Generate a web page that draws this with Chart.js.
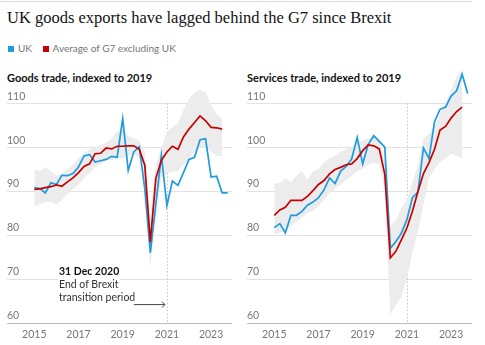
<!DOCTYPE html>
<html>
<head>
<meta charset="utf-8">
<script src="https://cdn.jsdelivr.net/npm/chart.js@4.4.1/dist/chart.umd.min.js"></script>
<style>
    body { margin: 0; background: #fff; font-family: Lato, sans-serif; }
    #wrap { position: relative; width: 485px; height: 345px; overflow: hidden; }
    .rule { position: absolute; left: 0; top: 1px; width: 472px; height: 1px; background: #dcdcdc; }
    .title { position: absolute; left: 7px; top: 10px; font-family: "Liberation Serif", serif; font-size: 16.5px; line-height: 16px; color: #121212; white-space: nowrap; }
    .legend { position: absolute; left: 8px; top: 41.5px; font-size: 10px; line-height: 12px; color: #767676; white-space: nowrap; }
    .legend span.sw { display: inline-block; width: 6px; height: 6px; margin-right: 4px; vertical-align: 0px; }
    .legend span.item { margin-right: 8px; }
    .sub { position: absolute; top: 70.5px; font-size: 11px; font-weight: bold; line-height: 14px; color: #121212; white-space: nowrap; }
    canvas { position: absolute; top: 60px; }
    .note { position: absolute; left: 58px; top: 265px; font-size: 10.5px; line-height: 12.8px; color: #333; }
    .note span { background: #fff; padding: 0 1px; }
    .note b { color: #121212; }
</style>
</head>
<body>
<div id="wrap">
    <div class="rule"></div>
    <div class="title">UK goods exports have lagged behind the G7 since Brexit</div>
    <div class="legend">
        <span class="item"><span class="sw" style="background:#1f9bde"></span>UK</span>
        <span class="item"><span class="sw" style="background:#c70000"></span>Average of G7 excluding UK</span>
    </div>
    <div class="sub" style="left:7px">Goods trade, indexed to 2019</div>
    <div class="sub" style="left:247px">Services trade, indexed to 2019</div>
    <canvas id="goods-chart" style="left:0" width="240" height="285"></canvas>
    <canvas id="services-chart" style="left:240px" width="240" height="285"></canvas>
    <div class="note">
        <span><b>31 Dec 2020</b></span><br>
        <span>End of Brexit</span><br>
        <span>transition period</span>
    </div>
</div>
<script>
// Quarterly index values, 2015 Q1 onwards (2019 = 100)
const startYear = 2015;
const yearTicks = [2015, 2017, 2019, 2021, 2023];
const valueTicks = [60, 70, 80, 90, 100, 110];
const brexitYear = 2021;

const ukGoods = [90.8, 90.6, 89.6, 91.9, 91.5, 93.6, 93.5, 94.0, 95.5, 98.0, 98.3, 96.6,
    96.9, 97.2, 97.9, 97.7, 106.5, 94.7, 98.9, 100.1, 90.5, 76.0, 87.0, 98.1,
    86.7, 92.3, 91.3, 94.2, 97.2, 97.7, 101.7, 101.9, 93.2, 93.4, 89.6, 89.6];
const g7Goods = [90.4, 90.5, 90.8, 91.0, 91.4, 91.1, 92.1, 93.0, 94.2, 95.6, 96.2, 98.5,
    98.6, 99.8, 99.6, 100.2, 100.2, 100.3, 100.3, 99.5, 95.9, 78.4, 92.9, 97.0,
    98.9, 100.2, 99.5, 102.3, 104.1, 105.6, 107.1, 106.0, 104.5, 104.4, 104.1];
const g7GoodsHigh = [95.0, 94.5, 95.5, 94.5, 93.5, 94.0, 95.0, 96.0, 97.5, 98.5, 99.5, 100.0,
    100.5, 101.0, 102.0, 103.5, 104.0, 102.5, 102.0, 101.5, 99.0, 84.0, 96.0, 100.0,
    103.5, 104.5, 105.5, 108.5, 111.0, 112.5, 113.0, 112.5, 109.5, 107.5, 106.5];
const g7GoodsLow = [86.5, 87.0, 87.5, 87.5, 87.0, 88.0, 89.5, 90.5, 91.5, 93.0, 94.0, 95.5,
    96.0, 97.0, 97.0, 97.5, 97.5, 98.0, 98.5, 97.5, 92.0, 72.5, 86.0, 93.0,
    94.0, 94.5, 94.5, 96.0, 97.5, 99.0, 100.0, 100.0, 99.0, 98.0, 98.0];

const ukServices = [81.7, 82.6, 80.5, 84.5, 84.5, 85.4, 86.8, 87.5, 88.5, 90.3, 93.0, 91.7,
    94.5, 95.6, 97.3, 102.2, 96.2, 100.6, 102.6, 101.3, 100.0, 77.0, 78.5, 80.4,
    83.5, 88.5, 89.8, 99.8, 97.4, 105.8, 108.6, 109.1, 111.6, 112.8, 116.6, 112.2];
const g7Services = [84.5, 85.7, 86.3, 87.9, 87.9, 87.9, 88.8, 90.1, 91.5, 92.4, 93.9, 94.9,
    95.4, 96.0, 96.2, 97.4, 99.2, 100.5, 100.3, 99.6, 93.8, 74.8, 76.3, 78.9,
    81.6, 85.4, 89.9, 94.0, 96.5, 99.5, 103.9, 104.7, 106.6, 108.1, 109.1];
const g7ServicesHigh = [91.8, 91.8, 93.0, 92.0, 93.5, 94.5, 92.5, 94.5, 95.0, 96.5, 97.5, 98.0,
    99.0, 99.5, 100.0, 101.0, 101.5, 102.0, 102.5, 101.5, 97.0, 82.0, 83.5, 86.0,
    88.0, 92.0, 96.0, 102.0, 103.0, 105.0, 107.5, 110.0, 113.0, 116.0, 117.5];
const g7ServicesLow = [80.2, 80.5, 80.8, 82.0, 83.0, 84.0, 85.0, 85.5, 86.5, 88.0, 89.5, 90.5,
    91.5, 92.5, 93.5, 94.5, 95.0, 96.0, 96.5, 96.0, 90.0, 62.0, 64.0, 66.0,
    70.0, 76.0, 81.0, 87.0, 93.0, 95.0, 96.5, 97.5, 98.5, 98.0, 97.5];

const BLUE = '#1f9bde';
const RED = '#c70000';
const BAND = '#ececec';

function toPoints(values) {
    return values.map((v, i) => ({ x: startYear + i / 4, y: v }));
}

// dotted marker at the end of the transition period
const brexitLine = {
    id: 'brexitLine',
    beforeDatasetsDraw(chart) {
        const { ctx, scales } = chart;
        const x = Math.round(scales.x.getPixelForValue(brexitYear)) + 0.5;
        ctx.save();
        ctx.strokeStyle = '#c4c4c4';
        ctx.lineWidth = 1;
        ctx.setLineDash([1.5, 2]);
        ctx.beginPath();
        ctx.moveTo(x, scales.y.getPixelForValue(110));
        ctx.lineTo(x, scales.y.getPixelForValue(60));
        ctx.stroke();
        ctx.restore();
    }
};

// arrow from the note to the marker (goods chart only)
const noteArrow = {
    id: 'noteArrow',
    afterDraw(chart) {
        const { ctx, scales } = chart;
        const x1 = scales.x.getPixelForValue(brexitYear) - 2;
        const x0 = x1 - 31;
        const y = scales.y.getPixelForValue(64.3) + 0.5;
        ctx.save();
        ctx.strokeStyle = '#444';
        ctx.lineWidth = 1;
        ctx.beginPath();
        ctx.moveTo(x0, y);
        ctx.lineTo(x1, y);
        ctx.moveTo(x1 - 3, y - 3);
        ctx.lineTo(x1, y);
        ctx.lineTo(x1 - 3, y + 3);
        ctx.stroke();
        ctx.restore();
    }
};

function makeChart(id, uk, g7, high, low, extraPlugins) {
    const ctx = document.getElementById(id).getContext('2d');
    return new Chart(ctx, {
        type: 'line',
        data: {
            datasets: [
                { label: 'Average of G7 excluding UK', data: toPoints(g7), borderColor: RED, borderWidth: 1.7, pointRadius: 0, tension: 0 },
                { label: 'UK', data: toPoints(uk), borderColor: BLUE, borderWidth: 1.7, pointRadius: 0, tension: 0 },
                { label: 'G7 high', data: toPoints(high), borderWidth: 0, pointRadius: 0, backgroundColor: BAND, fill: '+1' },
                { label: 'G7 low', data: toPoints(low), borderWidth: 0, pointRadius: 0, fill: false }
            ]
        },
        options: {
            responsive: false,
            animation: false,
            layout: { padding: { left: 7, right: 8, top: 8, bottom: 0 } },
            plugins: { legend: { display: false }, tooltip: { enabled: false } },
            scales: {
                x: {
                    type: 'linear',
                    min: 2013.765,
                    max: 2023.946,
                    afterBuildTicks: scale => { scale.ticks = yearTicks.map(v => ({ value: v })); },
                    afterFit: scale => { scale.height = 22; },
                    grid: { display: false, drawTicks: false },
                    border: { display: false },
                    ticks: {
                        padding: 5,
                        maxRotation: 0,
                        color: '#767676',
                        font: { family: 'Lato', size: 10.5 },
                        callback: v => String(v)
                    }
                },
                y: {
                    min: 60,
                    max: 118,
                    afterBuildTicks: scale => { scale.ticks = valueTicks.map(v => ({ value: v })); },
                    grid: {
                        drawTicks: false,
                        color: c => c.tick && c.tick.value === 60 ? '#bdbdbd' : '#e2e2e2'
                    },
                    border: { display: false },
                    ticks: {
                        mirror: true,
                        padding: 0,
                        labelOffset: -7,
                        color: '#767676',
                        font: { family: 'Lato', size: 10.5 }
                    }
                }
            }
        },
        plugins: [brexitLine].concat(extraPlugins)
    });
}

makeChart('goods-chart', ukGoods, g7Goods, g7GoodsHigh, g7GoodsLow, [noteArrow]);
makeChart('services-chart', ukServices, g7Services, g7ServicesHigh, g7ServicesLow, []);
</script>
</body>
</html>
